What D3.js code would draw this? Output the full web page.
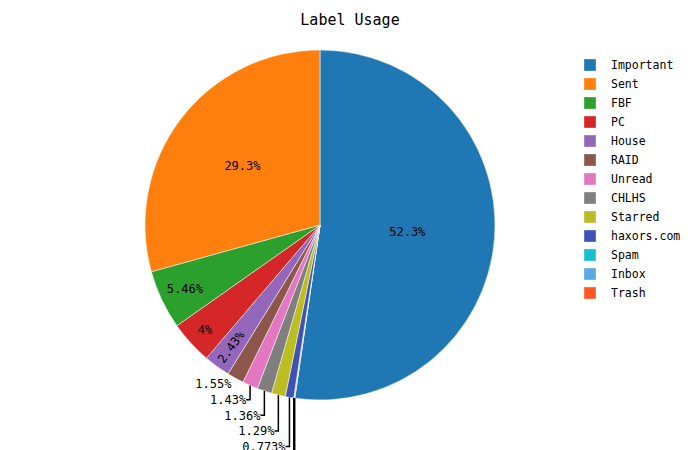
<!DOCTYPE html>
<html><head><meta charset="utf-8">
<script src="https://cdn.jsdelivr.net/npm/d3@7"></script>
<style>
body{margin:0;background:#fff}
svg{display:block}
text{font-family:"DejaVu Sans Mono",monospace}
</style>
</head><body>
<svg id="c" width="700" height="450"></svg>
<script>
// ---- data ----
const labels = ["Important","Sent","FBF","PC","House","RAID","Unread","CHLHS","Starred","haxors.com","Spam","Inbox","Trash"];
const values = [52.3, 29.3, 5.46, 4, 2.43, 1.55, 1.43, 1.36, 1.29, 0.773, 0.02, 0.07, 0.015];
const colors = ["#1f77b4","#ff7f0e","#2ca02c","#d62728","#9467bd","#8c564b","#e377c2","#7f7f7f","#bcbd22","#3f51b5","#17becf","#5aa9e2","#ff5722"];
const title = "Label Usage";

// ---- layout ----
const W = 700, H = 450, cx = 320, cy = 225, R = 175;
const FS = 12, LH = 15.6, PAD = 3;
const svg = d3.select("#c");
svg.append("rect").attr("width", W).attr("height", H).attr("fill", "#fff");

const total = d3.sum(values);
// clockwise from 12 o'clock: first category, then the rest in reverse order
const order = [0, ...d3.range(labels.length - 1, 0, -1)];
const pie = d3.pie().sort(null).value(i => values[i]);
const arcs = pie(order);
const arc = d3.arc().innerRadius(0).outerRadius(R);

const g = svg.append("g").attr("transform", `translate(${cx},${cy})`);
g.selectAll("path.slice").data(arcs).join("path")
  .attr("class", "slice")
  .attr("d", arc)
  .attr("fill", d => colors[d.data])
  .attr("stroke", "#fff").attr("stroke-width", 0.5);

function fmt(v) {
  let s = (100 * v / total).toPrecision(3);
  if (s.includes(".")) s = s.replace(/0+$/, "").replace(/\.$/, "");
  return s + "%";
}

// text measurement
const meas = svg.append("text").attr("font-size", FS).attr("visibility", "hidden");
function tw(s) { meas.text(s); return meas.node().getComputedTextLength(); }

const outside = [];
arcs.forEach(d => {
  const i = d.data;
  const txt = fmt(values[i]);
  const w = tw(txt);
  const mid = (d.startAngle + d.endAngle) / 2;
  const half = (d.endAngle - d.startAngle) / 2;
  const ux = Math.sin(mid), uy = -Math.cos(mid);
  const hd = Math.sqrt((w / 2) ** 2 + (LH / 2) ** 2);
  let a, rc;
  if (half >= Math.PI / 2) { a = R / 2; rc = R / 2; }
  else { const s = Math.sin(half); a = R * s / (1 + s); rc = R - a; }
  if (hd <= a) {
    g.append("text").attr("x", ux * rc).attr("y", uy * rc)
      .attr("text-anchor", "middle").attr("dy", "0.35em")
      .attr("font-size", FS).attr("fill", "#000").text(txt);
    return;
  }
  const rr = R - 2 * PAD - w / 2;
  if ((rr - w / 2) * Math.sin(half) >= FS / 2 + PAD) {
    let ang = Math.atan2(uy, ux) * 180 / Math.PI;
    if (ang > 90) ang -= 180; else if (ang < -90) ang += 180;
    g.append("text").attr("transform", `translate(${ux * rr},${uy * rr}) rotate(${ang})`)
      .attr("text-anchor", "middle").attr("dy", "0.35em")
      .attr("font-size", FS).attr("fill", "#000").text(txt);
    return;
  }
  // outside
  const px = ux * R, py = uy * R;
  let dx = w / 2, dy = LH / 2;
  if (px < 0) dx = -dx;
  if (py < 0) dy = -dy;
  const tx = dx + Math.abs(dy) * (dx > 0 ? 1 : -1) / 2;
  const ty = dy / (1 + px * px / (py * py));
  outside.push({txt, w, px, py, x: px + tx, y0: py + ty, y: py + ty, left: px < 0, bottom: py > 0});
});

// resolve overlaps per quadrant
[[true, true], [true, false], [false, true], [false, false]].forEach(([left, bottom]) => {
  const q = outside.filter(o => o.left === left && o.bottom === bottom);
  q.sort((a, b) => bottom ? a.y0 - b.y0 : b.y0 - a.y0);
  let prev = null;
  q.forEach(o => {
    if (prev) o.y = bottom ? Math.max(o.y0, prev.y + LH) : Math.min(o.y0, prev.y - LH);
    prev = o;
  });
});

outside.forEach(o => {
  g.append("text").attr("x", o.x).attr("y", o.y)
    .attr("text-anchor", "middle").attr("dy", "0.35em")
    .attr("font-size", FS).attr("fill", "#000").text(o.txt);
  if (Math.abs(o.y - o.y0) > 0.5) {
    const edge = o.left ? o.x + o.w / 2 : o.x - o.w / 2;
    g.append("path")
      .attr("d", `M${o.px},${o.py}V${o.y}H${edge}`)
      .attr("fill", "none").attr("stroke", "#000").attr("stroke-width", 1.5);
  }
});

// title
svg.append("text").attr("x", W / 2).attr("y", 25).attr("text-anchor", "middle")
  .attr("font-size", 15).attr("fill", "#000").text(title);

// legend
const leg = svg.append("g");
labels.forEach((l, i) => {
  const y = 65 + i * 19;
  leg.append("rect").attr("x", 584).attr("y", y - 6).attr("width", 12).attr("height", 12)
    .attr("fill", colors[i]).attr("stroke", "#fff").attr("stroke-opacity", 0.35).attr("stroke-width", 1);
  leg.append("text").attr("x", 611).attr("y", y).attr("dy", "0.35em")
    .attr("font-size", 11.5).attr("fill", "#000").text(l);
});
</script>
</body></html>
